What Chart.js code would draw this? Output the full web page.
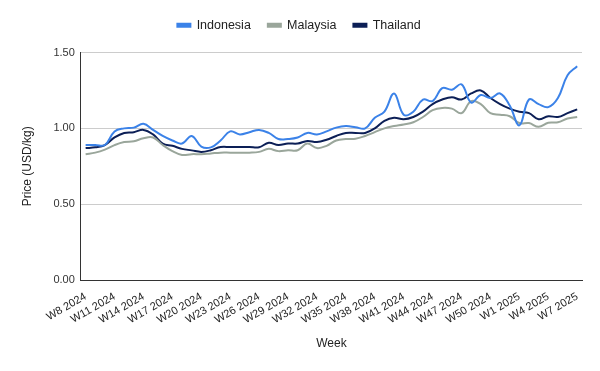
<!DOCTYPE html>
<html>
<head>
<meta charset="utf-8">
<script src="https://cdn.jsdelivr.net/npm/chart.js@4/dist/chart.umd.min.js"></script>
<style>
  html, body { margin: 0; padding: 0; background: #fff; }
  #wrap { width: 600px; height: 371px; }
</style>
</head>
<body>
<div id="wrap"><canvas id="priceChart" width="600" height="371"></canvas></div>
<script>
// weeks W8 2024 .. W7 2025
const weeks = [];
for (let w = 8; w <= 52; w++) weeks.push('W' + w + ' 2024');
for (let w = 1; w <= 7; w++) weeks.push('W' + w + ' 2025');

const indonesia = [
    0.89, 0.89, 0.89, 0.98, 1.00, 1.005, 1.03, 0.99, 0.95, 0.92,
    0.90, 0.95, 0.88, 0.875, 0.92, 0.98, 0.96, 0.975, 0.99, 0.97,
    0.93, 0.93, 0.94, 0.97, 0.96, 0.98, 1.005, 1.015, 1.008, 1.00,
    1.07, 1.11, 1.23, 1.09, 1.11, 1.19, 1.18, 1.265, 1.255, 1.29,
    1.17, 1.22, 1.20, 1.23, 1.15, 1.02, 1.19, 1.16, 1.14, 1.20,
    1.35, 1.41
];
const malaysia = [
    0.83, 0.84, 0.86, 0.89, 0.91, 0.915, 0.935, 0.94, 0.89, 0.85,
    0.825, 0.83, 0.83, 0.835, 0.84, 0.84, 0.84, 0.84, 0.845, 0.865,
    0.85, 0.856, 0.856, 0.90, 0.87, 0.885, 0.92, 0.93, 0.932, 0.95,
    0.975, 1.00, 1.015, 1.025, 1.04, 1.075, 1.12, 1.135, 1.13, 1.10,
    1.18, 1.16, 1.10, 1.09, 1.08, 1.035, 1.035, 1.01, 1.037, 1.04,
    1.065, 1.075
];
const thailand = [
    0.87, 0.875, 0.89, 0.94, 0.97, 0.975, 0.99, 0.96, 0.90, 0.885,
    0.865, 0.855, 0.845, 0.856, 0.877, 0.877, 0.877, 0.877, 0.875, 0.905,
    0.89, 0.90, 0.90, 0.917, 0.91, 0.925, 0.95, 0.97, 0.97, 0.97,
    1.00, 1.05, 1.07, 1.06, 1.075, 1.11, 1.16, 1.19, 1.205, 1.19,
    1.23, 1.25, 1.20, 1.16, 1.13, 1.11, 1.10, 1.06, 1.08, 1.075,
    1.10, 1.125
];
const yTicks = [0, 0.5, 1.0, 1.5];

Chart.defaults.font.family = '"Liberation Sans", Arial, sans-serif';
Chart.defaults.font.size = 11;
Chart.defaults.color = '#333';

const ctx = document.getElementById('priceChart').getContext('2d');

function series(label, data, color) {
    return {
        label: label,
        data: data,
        borderColor: color,
        backgroundColor: color,
        borderWidth: 2,
        pointRadius: 0,
        tension: 0.4,
        fill: false
    };
}

// extra room between legend and plot
const legendGap = {
    id: 'legendGap',
    beforeInit(chart) {
        const fit = chart.legend.fit;
        chart.legend.fit = function () {
            fit.bind(chart.legend)();
            this.height += 11;
        };
    }
};

new Chart(ctx, {
    type: 'line',
    data: {
        labels: weeks,
        datasets: [
            series('Indonesia', indonesia, '#3b82e8'),
            series('Malaysia', malaysia, '#9aa69b'),
            series('Thailand', thailand, '#0c1f56')
        ]
    },
    plugins: [legendGap],
    options: {
        responsive: false,
        animation: false,
        layout: { padding: { left: 16, right: 18, top: 2, bottom: 16 } },
        plugins: {
            legend: {
                position: 'top',
                labels: {
                    boxWidth: 13,
                    boxHeight: 3,
                    padding: 17,
                    color: '#222',
                    font: { size: 12.5 }
                }
            },
            tooltip: { enabled: false }
        },
        scales: {
            x: {
                offset: true,
                grid: { display: false },
                border: { display: true, color: '#333', width: 1 },
                title: { display: true, text: 'Week', color: '#222', font: { size: 12 }, padding: { top: 8 } },
                ticks: {
                    autoSkip: false,
                    minRotation: 30,
                    maxRotation: 30,
                    color: '#222',
                    padding: 2,
                    callback: (v, i) => (i % 3 === 0 ? weeks[i] : '')
                }
            },
            y: {
                min: 0,
                max: 1.5,
                afterBuildTicks: axis => { axis.ticks = yTicks.map(v => ({ value: v })); },
                grid: { color: '#cccccc', drawTicks: false },
                border: { display: true, color: '#333', width: 1 },
                title: { display: true, text: 'Price (USD/kg)', color: '#222', font: { size: 12 }, padding: { bottom: 13 } },
                ticks: {
                    color: '#333',
                    padding: 6,
                    callback: v => v.toFixed(2)
                }
            }
        }
    }
});
</script>
</body>
</html>
